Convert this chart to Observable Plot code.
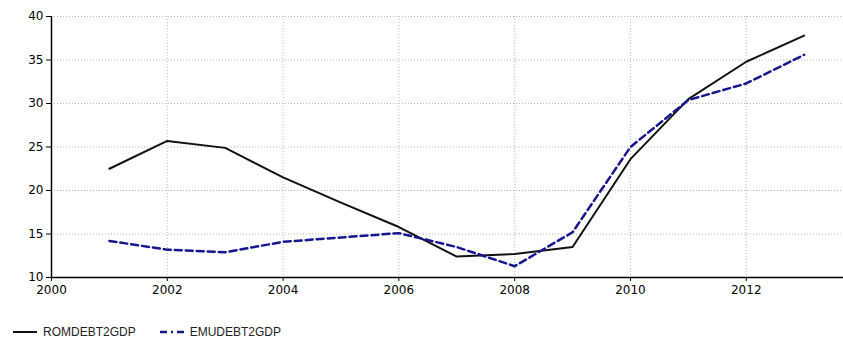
<!DOCTYPE html>
<html>
<head>
<meta charset="utf-8">
<script src="https://cdn.jsdelivr.net/npm/d3@7"></script>
<script src="https://cdn.jsdelivr.net/npm/@observablehq/plot@0.6"></script>
<style>
  body { margin: 0; background: #fff; }
  #chart { position: relative; width: 843px; height: 338px; overflow: hidden; }
  #chart svg { display: block; }
  .legend { position: absolute; left: 13px; top: 324px; height: 16px; display: flex; align-items: center;
            font: 12px "Liberation Sans", Arial, sans-serif; color: #222; }
  .legend .item { display: flex; align-items: center; margin-right: 24px; }
  .legend svg { margin-right: 6px; }
</style>
</head>
<body>
<div id="chart"></div>
<script>
// Annual debt-to-GDP ratios (%)
const years   = [2001, 2002, 2003, 2004, 2005, 2006, 2007, 2008, 2009, 2010, 2011, 2012, 2013];
const romDebt = [22.5, 25.7, 24.9, 21.5, 18.6, 15.8, 12.4, 12.7, 13.5, 23.6, 30.5, 34.8, 37.8];
const emuDebt = [14.2, 13.2, 12.9, 14.1, 14.6, 15.1, 13.5, 11.3, 15.2, 25.0, 30.4, 32.3, 35.6];

const seriesNames = ["ROMDEBT2GDP", "EMUDEBT2GDP"];
const xTicks = [2000, 2002, 2004, 2006, 2008, 2010, 2012];
const yTicks = [10, 15, 20, 25, 30, 35, 40];

const romColor = "#111111";
const emuColor = "#16168f";

const rom = years.map((year, i) => ({year, value: romDebt[i]}));
const emu = years.map((year, i) => ({year, value: emuDebt[i]}));

const gridStyle = {stroke: "#b8b8b8", strokeOpacity: 1, strokeDasharray: "1,2"};

const chart = Plot.plot({
  width: 843,
  height: 305,
  marginTop: 16,
  marginBottom: 28,
  marginLeft: 51,
  marginRight: 0,
  style: {fontFamily: "'DejaVu Sans', Verdana, sans-serif", fontSize: "12px", color: "#000", background: "#fff"},
  x: {domain: [2000, 2013.68]},
  y: {domain: [10, 40]},
  marks: [
    Plot.gridY(yTicks.filter(v => v > 10), gridStyle),
    Plot.gridX(xTicks.filter(v => v > 2000), gridStyle),
    Plot.ruleX([2000], {stroke: "#000", strokeWidth: 1.5}),
    Plot.ruleY([10], {stroke: "#000", strokeWidth: 1.5}),
    Plot.axisY(yTicks, {tickSize: 5, tickPadding: 3, label: null, stroke: "#000", fill: "#000"}),
    Plot.axisX(xTicks, {tickSize: 4, tickPadding: 4, label: null, stroke: "#000", fill: "#000", tickFormat: d => String(d)}),
    Plot.line(rom, {x: "year", y: "value", stroke: romColor, strokeWidth: 2}),
    Plot.line(emu, {x: "year", y: "value", stroke: emuColor, strokeWidth: 2.5, strokeDasharray: "7,4"})
  ]
});

const root = document.getElementById("chart");
root.appendChild(chart);

// Legend below the plot
const legend = document.createElement("div");
legend.className = "legend";
const styles = [
  {color: romColor, width: 2, dash: null},
  {color: emuColor, width: 2.5, dash: "7,4,2,4"}
];
seriesNames.forEach((name, i) => {
  const item = document.createElement("div");
  item.className = "item";
  const s = styles[i];
  item.innerHTML =
    `<svg width="24" height="6"><line x1="0" y1="3" x2="24" y2="3" stroke="${s.color}" stroke-width="${s.width}"` +
    (s.dash ? ` stroke-dasharray="${s.dash}"` : "") + `/></svg><span>${name}</span>`;
  legend.appendChild(item);
});
root.appendChild(legend);
</script>
</body>
</html>
